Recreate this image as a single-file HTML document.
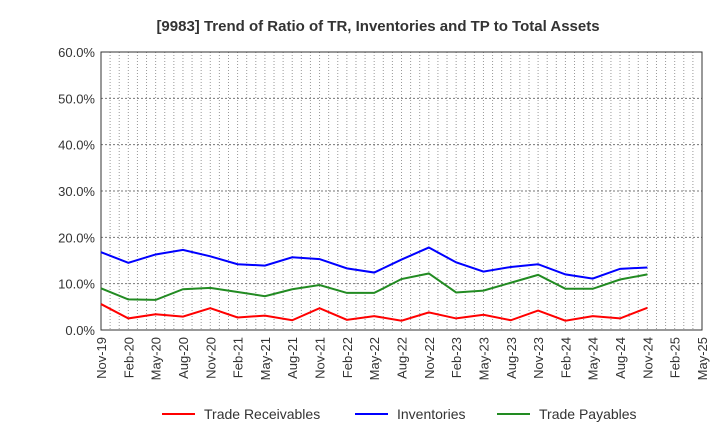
<!DOCTYPE html>
<html><head><meta charset="utf-8"><style>
body{margin:0;background:#fff;font-family:"Liberation Sans",sans-serif}
</style></head><body>
<svg id="c" width="720" height="440" xmlns="http://www.w3.org/2000/svg">
<text x="378" y="31" text-anchor="middle" font-size="15" font-weight="bold" fill="#333">[9983]  Trend of Ratio of TR, Inventories and TP to Total Assets</text>
<g id="grid"></g><g id="axes"></g><g id="series"></g><g id="legend"></g>
</svg>
<script>
const xLabels=["Nov-19","Feb-20","May-20","Aug-20","Nov-20","Feb-21","May-21","Aug-21","Nov-21","Feb-22","May-22","Aug-22","Nov-22","Feb-23","May-23","Aug-23","Nov-23","Feb-24","May-24","Aug-24","Nov-24","Feb-25","May-25"];
const yTicks=[0,10,20,30,40,50,60];
const receivables=[5.6,2.5,3.4,2.9,4.7,2.7,3.1,2.1,4.7,2.2,3.0,2.0,3.8,2.5,3.3,2.1,4.2,2.0,3.0,2.5,4.8];
const inventories=[16.8,14.5,16.3,17.3,15.9,14.2,13.9,15.7,15.3,13.3,12.4,15.2,17.8,14.6,12.6,13.6,14.2,12.0,11.1,13.2,13.5];
const payables=[9.0,6.6,6.5,8.8,9.1,8.2,7.3,8.8,9.7,8.0,8.0,11.0,12.2,8.1,8.5,10.2,11.9,8.9,8.9,10.9,12.0];
const seriesNames=["Trade Receivables","Inventories","Trade Payables"];
const L=101,R=702,T=52,B=330;
const X=i=>L+(R-L)*i/(xLabels.length-1);
const Y=v=>B-(B-T)*v/60;
const NS="http://www.w3.org/2000/svg";
function mk(tag,attrs,parent){const e=document.createElementNS(NS,tag);for(const k in attrs)e.setAttribute(k,attrs[k]);document.getElementById(parent).appendChild(e);return e;}
for(let m=1;m<(xLabels.length-1)*3;m++){const x=L+(R-L)*m/((xLabels.length-1)*3);
const g=mk('line',{x1:x,x2:x,y1:T,y2:B,stroke:'#999','stroke-dasharray':'1,2','stroke-width':1},'grid');

}
yTicks.forEach(v=>{
if(v>0){const g=mk('line',{x1:L,x2:R,y1:Y(v),y2:Y(v),stroke:'#777','stroke-dasharray':'2,2','stroke-width':1},'grid');

}
const t=mk('text',{x:L-6,y:Y(v)+5,'text-anchor':'end','font-size':13,fill:'#333'},'axes');t.textContent=v.toFixed(1)+'%';

});
const fr=mk('rect',{x:L,y:T,width:R-L,height:B-T,fill:'none',stroke:'#333','stroke-width':1},'axes');


xLabels.forEach((s,i)=>{const t=mk('text',{transform:`translate(${X(i)+5},${B+7}) rotate(-90)`,'text-anchor':'end','font-size':13,fill:'#333'},'axes');t.textContent=s;

});
const colors=['#ff0000','#0000ff','#228b22'];
[receivables,inventories,payables].forEach((d,k)=>{
const p=mk('polyline',{points:d.map((v,i)=>X(i)+','+Y(v)).join(' '),fill:'none',stroke:colors[k],'stroke-width':2},'series');


const lx=[162,355,497][k];
const ll=mk('line',{x1:lx,x2:lx+33,y1:414,y2:414,stroke:colors[k],'stroke-width':2},'legend');


const lt=mk('text',{x:lx+42,y:419,'font-size':14,fill:'#333'},'legend');lt.textContent=seriesNames[k];

});
</script>
</body></html>
